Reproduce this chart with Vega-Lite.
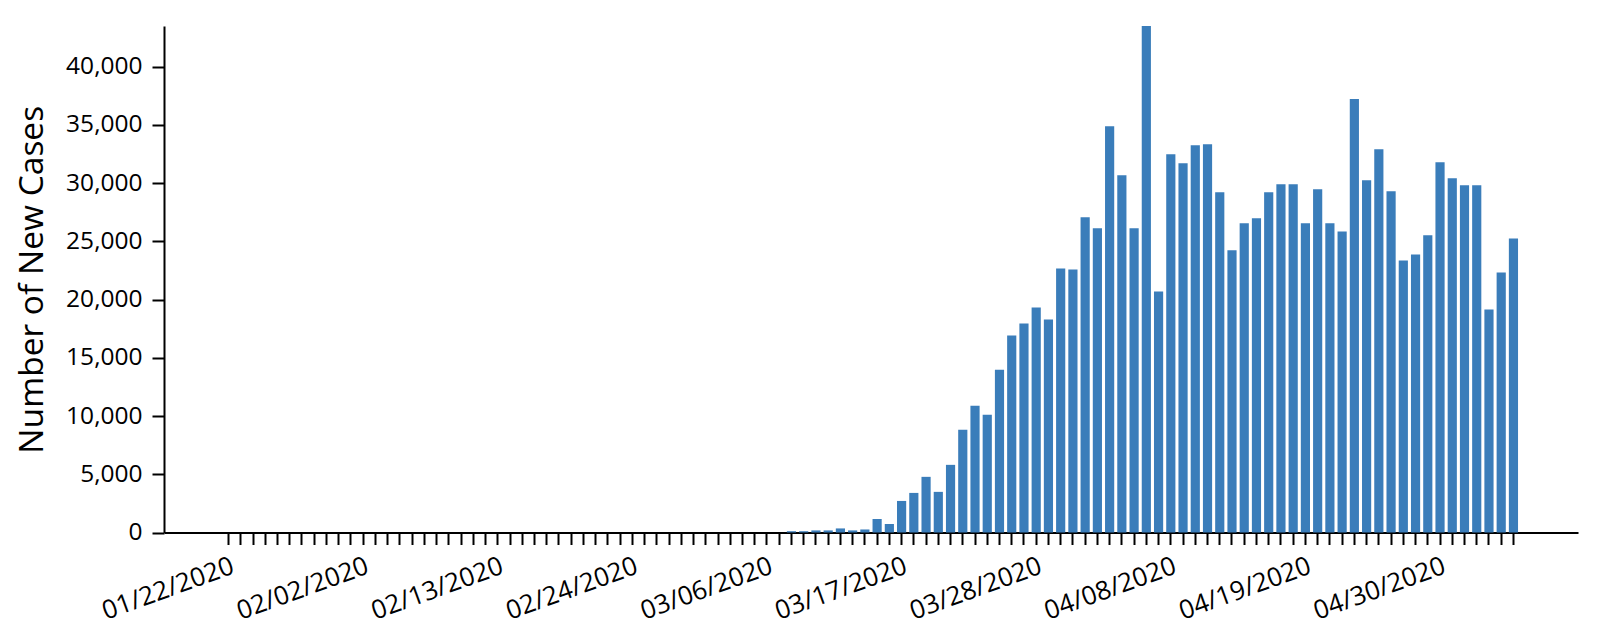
{
  "$schema": "https://vega.github.io/schema/vega-lite/v6.json",
  "width": 1414,
  "height": 506.5,
  "autosize": {"type": "none"},
  "padding": {"left": 164, "top": 26, "right": 21, "bottom": 101},
  "background": "white",
  "config": {"view": {"stroke": null}, "font": "Open Sans"},
  "data": {
    "values": [
      {"date": "01/22/2020", "cases": 0}, {"date": "01/23/2020", "cases": 0}, {"date": "01/24/2020", "cases": 0},
      {"date": "01/25/2020", "cases": 0}, {"date": "01/26/2020", "cases": 0}, {"date": "01/27/2020", "cases": 0},
      {"date": "01/28/2020", "cases": 0}, {"date": "01/29/2020", "cases": 0}, {"date": "01/30/2020", "cases": 0},
      {"date": "01/31/2020", "cases": 0}, {"date": "02/01/2020", "cases": 0}, {"date": "02/02/2020", "cases": 0},
      {"date": "02/03/2020", "cases": 0}, {"date": "02/04/2020", "cases": 0}, {"date": "02/05/2020", "cases": 0},
      {"date": "02/06/2020", "cases": 0}, {"date": "02/07/2020", "cases": 0}, {"date": "02/08/2020", "cases": 0},
      {"date": "02/09/2020", "cases": 0}, {"date": "02/10/2020", "cases": 0}, {"date": "02/11/2020", "cases": 0},
      {"date": "02/12/2020", "cases": 0}, {"date": "02/13/2020", "cases": 0}, {"date": "02/14/2020", "cases": 0},
      {"date": "02/15/2020", "cases": 0}, {"date": "02/16/2020", "cases": 0}, {"date": "02/17/2020", "cases": 0},
      {"date": "02/18/2020", "cases": 0}, {"date": "02/19/2020", "cases": 0}, {"date": "02/20/2020", "cases": 0},
      {"date": "02/21/2020", "cases": 0}, {"date": "02/22/2020", "cases": 0}, {"date": "02/23/2020", "cases": 0},
      {"date": "02/24/2020", "cases": 0}, {"date": "02/25/2020", "cases": 0}, {"date": "02/26/2020", "cases": 0},
      {"date": "02/27/2020", "cases": 0}, {"date": "02/28/2020", "cases": 0}, {"date": "02/29/2020", "cases": 0},
      {"date": "03/01/2020", "cases": 0}, {"date": "03/02/2020", "cases": 0}, {"date": "03/03/2020", "cases": 0},
      {"date": "03/04/2020", "cases": 0}, {"date": "03/05/2020", "cases": 0}, {"date": "03/06/2020", "cases": 0},
      {"date": "03/07/2020", "cases": 0}, {"date": "03/08/2020", "cases": 110}, {"date": "03/09/2020", "cases": 110},
      {"date": "03/10/2020", "cases": 180}, {"date": "03/11/2020", "cases": 180}, {"date": "03/12/2020", "cases": 350},
      {"date": "03/13/2020", "cases": 180}, {"date": "03/14/2020", "cases": 260}, {"date": "03/15/2020", "cases": 1160},
      {"date": "03/16/2020", "cases": 730}, {"date": "03/17/2020", "cases": 2710}, {"date": "03/18/2020", "cases": 3400},
      {"date": "03/19/2020", "cases": 4780}, {"date": "03/20/2020", "cases": 3490}, {"date": "03/21/2020", "cases": 5810},
      {"date": "03/22/2020", "cases": 8820}, {"date": "03/23/2020", "cases": 10890}, {"date": "03/24/2020", "cases": 10110},
      {"date": "03/25/2020", "cases": 13985}, {"date": "03/26/2020", "cases": 16910}, {"date": "03/27/2020", "cases": 17940},
      {"date": "03/28/2020", "cases": 19320}, {"date": "03/29/2020", "cases": 18290}, {"date": "03/30/2020", "cases": 22680},
      {"date": "03/31/2020", "cases": 22590}, {"date": "04/01/2020", "cases": 27070}, {"date": "04/02/2020", "cases": 26120},
      {"date": "04/03/2020", "cases": 34900}, {"date": "04/04/2020", "cases": 30680}, {"date": "04/05/2020", "cases": 26120},
      {"date": "04/06/2020", "cases": 43500}, {"date": "04/07/2020", "cases": 20700}, {"date": "04/08/2020", "cases": 32490},
      {"date": "04/09/2020", "cases": 31710}, {"date": "04/10/2020", "cases": 33260}, {"date": "04/11/2020", "cases": 33350},
      {"date": "04/12/2020", "cases": 29220}, {"date": "04/13/2020", "cases": 24230}, {"date": "04/14/2020", "cases": 26550},
      {"date": "04/15/2020", "cases": 26980}, {"date": "04/16/2020", "cases": 29220}, {"date": "04/17/2020", "cases": 29910},
      {"date": "04/18/2020", "cases": 29910}, {"date": "04/19/2020", "cases": 26550}, {"date": "04/20/2020", "cases": 29480},
      {"date": "04/21/2020", "cases": 26550}, {"date": "04/22/2020", "cases": 25860}, {"date": "04/23/2020", "cases": 37220},
      {"date": "04/24/2020", "cases": 30250}, {"date": "04/25/2020", "cases": 32920}, {"date": "04/26/2020", "cases": 29300},
      {"date": "04/27/2020", "cases": 23370}, {"date": "04/28/2020", "cases": 23880}, {"date": "04/29/2020", "cases": 25520},
      {"date": "04/30/2020", "cases": 31800}, {"date": "05/01/2020", "cases": 30420}, {"date": "05/02/2020", "cases": 29820},
      {"date": "05/03/2020", "cases": 29820}, {"date": "05/04/2020", "cases": 19150}, {"date": "05/05/2020", "cases": 22330},
      {"date": "05/06/2020", "cases": 25260}
    ]
  },
  "mark": {"type": "bar", "color": "#3a7dba"},
  "encoding": {
    "x": {
      "field": "date",
      "type": "ordinal",
      "sort": null,
      "scale": {
        "domain": ["pad1","pad2","pad3","pad4",
          "01/22/2020","01/23/2020","01/24/2020","01/25/2020","01/26/2020","01/27/2020","01/28/2020","01/29/2020","01/30/2020","01/31/2020",
          "02/01/2020","02/02/2020","02/03/2020","02/04/2020","02/05/2020","02/06/2020","02/07/2020","02/08/2020","02/09/2020","02/10/2020",
          "02/11/2020","02/12/2020","02/13/2020","02/14/2020","02/15/2020","02/16/2020","02/17/2020","02/18/2020","02/19/2020","02/20/2020",
          "02/21/2020","02/22/2020","02/23/2020","02/24/2020","02/25/2020","02/26/2020","02/27/2020","02/28/2020","02/29/2020","03/01/2020",
          "03/02/2020","03/03/2020","03/04/2020","03/05/2020","03/06/2020","03/07/2020","03/08/2020","03/09/2020","03/10/2020","03/11/2020",
          "03/12/2020","03/13/2020","03/14/2020","03/15/2020","03/16/2020","03/17/2020","03/18/2020","03/19/2020","03/20/2020","03/21/2020",
          "03/22/2020","03/23/2020","03/24/2020","03/25/2020","03/26/2020","03/27/2020","03/28/2020","03/29/2020","03/30/2020","03/31/2020",
          "04/01/2020","04/02/2020","04/03/2020","04/04/2020","04/05/2020","04/06/2020","04/07/2020","04/08/2020","04/09/2020","04/10/2020",
          "04/11/2020","04/12/2020","04/13/2020","04/14/2020","04/15/2020","04/16/2020","04/17/2020","04/18/2020","04/19/2020","04/20/2020",
          "04/21/2020","04/22/2020","04/23/2020","04/24/2020","04/25/2020","04/26/2020","04/27/2020","04/28/2020","04/29/2020","04/30/2020",
          "05/01/2020","05/02/2020","05/03/2020","05/04/2020","05/05/2020","05/06/2020",
          "pad5","pad6","pad7","pad8"],
        "paddingInner": 0.25,
        "paddingOuter": 0.9
      },
      "axis": {
        "title": null,
        "grid": false,
        "values": ["01/22/2020","01/23/2020","01/24/2020","01/25/2020","01/26/2020","01/27/2020","01/28/2020","01/29/2020","01/30/2020","01/31/2020",
          "02/01/2020","02/02/2020","02/03/2020","02/04/2020","02/05/2020","02/06/2020","02/07/2020","02/08/2020","02/09/2020","02/10/2020",
          "02/11/2020","02/12/2020","02/13/2020","02/14/2020","02/15/2020","02/16/2020","02/17/2020","02/18/2020","02/19/2020","02/20/2020",
          "02/21/2020","02/22/2020","02/23/2020","02/24/2020","02/25/2020","02/26/2020","02/27/2020","02/28/2020","02/29/2020","03/01/2020",
          "03/02/2020","03/03/2020","03/04/2020","03/05/2020","03/06/2020","03/07/2020","03/08/2020","03/09/2020","03/10/2020","03/11/2020",
          "03/12/2020","03/13/2020","03/14/2020","03/15/2020","03/16/2020","03/17/2020","03/18/2020","03/19/2020","03/20/2020","03/21/2020",
          "03/22/2020","03/23/2020","03/24/2020","03/25/2020","03/26/2020","03/27/2020","03/28/2020","03/29/2020","03/30/2020","03/31/2020",
          "04/01/2020","04/02/2020","04/03/2020","04/04/2020","04/05/2020","04/06/2020","04/07/2020","04/08/2020","04/09/2020","04/10/2020",
          "04/11/2020","04/12/2020","04/13/2020","04/14/2020","04/15/2020","04/16/2020","04/17/2020","04/18/2020","04/19/2020","04/20/2020",
          "04/21/2020","04/22/2020","04/23/2020","04/24/2020","04/25/2020","04/26/2020","04/27/2020","04/28/2020","04/29/2020","04/30/2020",
          "05/01/2020","05/02/2020","05/03/2020","05/04/2020","05/05/2020","05/06/2020"],
        "labelAngle": -20,
        "labelAlign": "right",
        "labelBaseline": "top",
        "labelFontSize": 26,
        "labelColor": "black",
        "labelPadding": 8,
        "labelOverlap": false,
        "labelBound": false,
        "labelExpr": "indexof(['01/22/2020','02/02/2020','02/13/2020','02/24/2020','03/06/2020','03/17/2020','03/28/2020','04/08/2020','04/19/2020','04/30/2020'], datum.value) >= 0 ? datum.value : ''",
        "tickSize": 12,
        "tickWidth": 2,
        "tickColor": "black",
        "domainColor": "black",
        "domainWidth": 2
      }
    },
    "y": {
      "field": "cases",
      "type": "quantitative",
      "scale": {"domain": [0, 43500], "nice": false},
      "axis": {
        "title": "Number of New Cases",
        "titleFontSize": 33.5,
        "titleFontWeight": "normal",
        "titleColor": "black",
        "titlePadding": 16,
        "grid": false,
        "values": [0, 5000, 10000, 15000, 20000, 25000, 30000, 35000, 40000],
        "format": ",d",
        "labelFontSize": 24.5,
        "labelColor": "black",
        "labelPadding": 10,
        "tickSize": 12,
        "tickWidth": 2,
        "tickColor": "black",
        "domainColor": "black",
        "domainWidth": 2
      }
    }
  }
}
